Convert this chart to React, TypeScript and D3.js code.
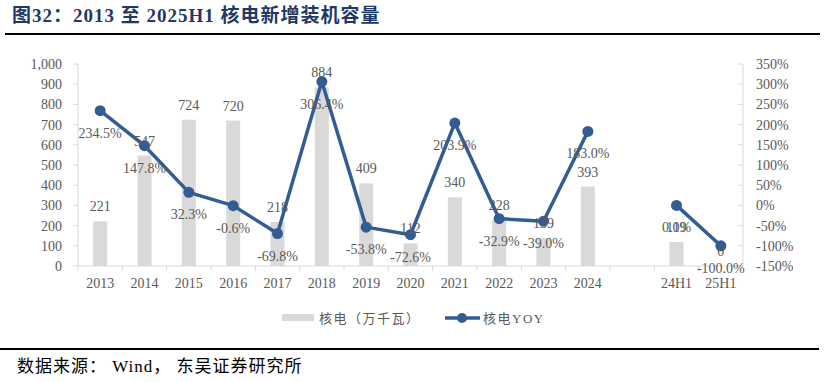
import React from "react";
import * as d3 from "d3";

const categories = ["2013","2014","2015","2016","2017","2018","2019","2020","2021","2022","2023","2024","","24H1","25H1"];
const capacity: (number | null)[] = [221,547,724,720,218,884,409,112,340,228,139,393,null,119,0];
const yoy: (number | null)[] = [234.5,147.8,32.3,-0.6,-69.8,306.4,-53.8,-72.6,203.9,-32.9,-39.0,183.0,null,0.0,-100.0];
const leftTicks = [0,100,200,300,400,500,600,700,800,900,1000];
const rightTicks = [-150,-100,-50,0,50,100,150,200,250,300,350];

const W = 824, H = 382;
const FONT = "'Liberation Serif', 'Times New Roman', 'Noto Sans CJK SC', serif";
const GRAY = "#595959";
const AXIS = "#d9d9d9";
const BLUE = "#335c92";

export default function App() {
  const x = d3.scaleBand<string>().domain(categories.map((c, i) => i + "|" + c)).range([78, 743]).padding(0);
  const keys = x.domain();
  const yL = d3.scaleLinear().domain([0, 1000]).range([266, 64]);
  const yR = d3.scaleLinear().domain([-150, 350]).range([266, 64]);
  const cx = (i: number) => (x(keys[i]) as number) + x.bandwidth() / 2;
  const barW = 14;

  const segs: { i: number; v: number }[][] = [];
  let cur: { i: number; v: number }[] = [];
  yoy.forEach((v, i) => {
    if (v === null) { if (cur.length) segs.push(cur); cur = []; }
    else cur.push({ i, v });
  });
  if (cur.length) segs.push(cur);
  const line = d3.line<{ i: number; v: number }>().x(d => cx(d.i)).y(d => yR(d.v));

  const fmt = d3.format(",");
  return (
    <svg width={W} height={H} style={{ position: "absolute", left: 0, top: 0, background: "#fff" }} fontFamily={FONT}>
      <rect width={W} height={H} fill="#fff" />
      {/* title */}
      <text x={12} y={22} fontSize={19} fontWeight="bold" letterSpacing={1} fill="#1f3864" style={{ whiteSpace: "pre" }}>图32：2013 至 2025H1 核电新增装机容量</text>
      <line x1={5} x2={820} y1={34} y2={34} stroke="#000" strokeWidth={2} />

      {/* left axis */}
      <line x1={78} x2={78} y1={yL(1000)} y2={yL(0)} stroke={AXIS} />
      {leftTicks.map(t => (
        <g key={"l" + t}>
          <line x1={73} x2={78} y1={yL(t)} y2={yL(t)} stroke={AXIS} />
          <text x={62} y={yL(t)} dy="0.35em" textAnchor="end" fontSize={14} fill={GRAY}>{fmt(t)}</text>
        </g>
      ))}
      {/* right axis */}
      <line x1={743} x2={743} y1={yR(350)} y2={yR(-150)} stroke={AXIS} />
      {rightTicks.map(t => (
        <g key={"r" + t}>
          <line x1={738} x2={743} y1={yR(t)} y2={yR(t)} stroke={AXIS} />
          <text x={756} y={yR(t)} dy="0.35em" textAnchor="start" fontSize={14} fill={GRAY}>{t + "%"}</text>
        </g>
      ))}
      {/* x axis */}
      <line x1={78} x2={743} y1={266} y2={266} stroke={AXIS} />
      {keys.map((k, i) => (
        <line key={"xt" + i} x1={x(k) as number} x2={x(k) as number} y1={266} y2={271} stroke={AXIS} />
      ))}
      {categories.map((c, i) => (
        <text key={"xl" + i} x={cx(i)} y={288} textAnchor="middle" fontSize={14} fill={GRAY}>{c}</text>
      ))}

      {/* bars */}
      {capacity.map((v, i) => v === null ? null : (
        <rect key={"b" + i} x={cx(i) - barW / 2} y={yL(v)} width={barW} height={yL(0) - yL(v)} fill={AXIS} />
      ))}
      {/* line */}
      {segs.map((s, j) => (
        <path key={"s" + j} d={line(s) || ""} fill="none" stroke={BLUE} strokeWidth={3.5} strokeLinejoin="round" />
      ))}
      {yoy.map((v, i) => v === null ? null : (
        <circle key={"c" + i} cx={cx(i)} cy={yR(v)} r={5.5} fill={BLUE} />
      ))}
      {/* bar labels */}
      {capacity.map((v, i) => v === null ? null : (
        <text key={"bl" + i} x={cx(i)} y={yL(v) - 10} textAnchor="middle" fontSize={14} fill={GRAY}>{fmt(v)}</text>
      ))}
      {/* yoy labels */}
      {yoy.map((v, i) => v === null ? null : (
        <text key={"yl" + i} x={cx(i)} y={yR(v) + 27} textAnchor="middle" fontSize={14} fill={GRAY}>{v.toFixed(1) + "%"}</text>
      ))}

      {/* legend */}
      <rect x={282} y={314} width={32} height={7} fill={AXIS} />
      <text x={319} y={318} dy="0.35em" fontSize={13} letterSpacing={1.5} fill={GRAY}>核电（万千瓦）</text>
      <line x1={445} x2={480} y1={318} y2={318} stroke={BLUE} strokeWidth={3.5} />
      <circle cx={462} cy={318} r={5} fill={BLUE} />
      <text x={483} y={318} dy="0.35em" fontSize={13} letterSpacing={1.5} fill={GRAY}>核电YOY</text>

      {/* footer */}
      <line x1={0} x2={819} y1={349} y2={349} stroke="#000" strokeWidth={2} />
      <text x={17} y={366} dy="0.35em" fontSize={17} letterSpacing={1} fill="#000" style={{ whiteSpace: "pre" }}>数据来源： Wind， 东吴证券研究所</text>
    </svg>
  );
}
